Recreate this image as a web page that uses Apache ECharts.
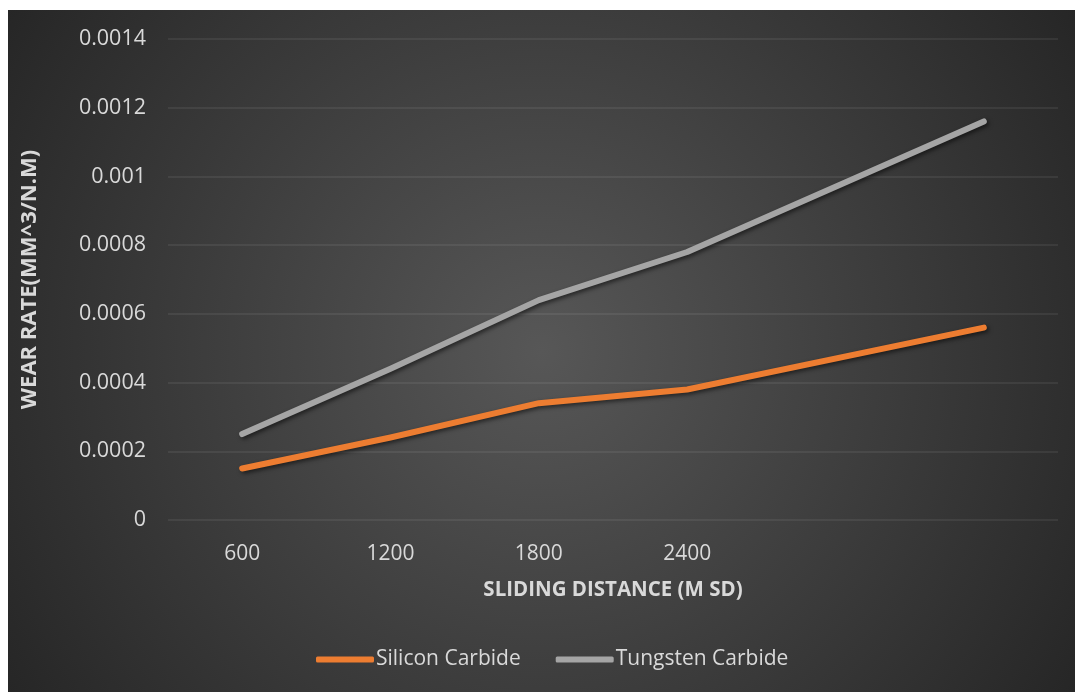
<!DOCTYPE html>
<html>
<head>
<meta charset="utf-8">
<script src="https://cdn.jsdelivr.net/npm/echarts@6/dist/echarts.min.js"></script>
<style>
  html, body { margin: 0; padding: 0; background: #ffffff; }
  #chart { position: absolute; left: 8px; top: 10px; width: 1067px; height: 682px; }
</style>
</head>
<body>
<div id="chart"></div>
<script>
// Sliding distance categories (the last two slots carry no label)
const distances = ['600', '1200', '1800', '2400', '', ''];
// Wear rate, mm^3/N.m
const siliconCarbide = [0.00015, 0.00024, 0.00034, 0.00038, null, 0.00056];
const tungstenCarbide = [0.00025, 0.00044, 0.00064, 0.00078, null, 0.00116];
const yTickLabels = ['0', '0.0002', '0.0004', '0.0006', '0.0008', '0.001', '0.0012', '0.0014'];

const textColor = '#d9d9d9';
const fontFamily = 'Open Sans, sans-serif';

const chart = echarts.init(document.getElementById('chart'), null, { renderer: 'canvas' });

const lineShadow = {
  shadowColor: 'rgba(0,0,0,0.55)',
  shadowBlur: 4,
  shadowOffsetX: 2,
  shadowOffsetY: 2
};

chart.setOption({
  animation: false,
  backgroundColor: new echarts.graphic.RadialGradient(0.5, 0.5, 0.95, [
    { offset: 0, color: '#575757' },
    { offset: 1, color: '#252525' }
  ]),
  grid: { left: 160, right: 17, top: 29, bottom: 172 },
  legend: {
    bottom: 17,
    left: 303,
    itemWidth: 58,
    itemHeight: 6,
    itemGap: 35,
    icon: 'roundRect',
    textStyle: { color: textColor, fontSize: 21, fontFamily: fontFamily, padding: [0, 0, 0, -3] },
    data: ['Silicon Carbide', 'Tungsten Carbide']
  },
  xAxis: {
    type: 'category',
    data: distances,
    boundaryGap: true,
    axisLine: { show: false },
    axisTick: { show: false },
    axisLabel: { color: textColor, fontSize: 21, fontFamily: fontFamily, margin: 24, interval: 0 },
    name: 'SLIDING DISTANCE (M SD)',
    nameLocation: 'middle',
    nameGap: 60,
    nameTextStyle: { color: textColor, fontSize: 20.5, fontWeight: 'bold', fontFamily: fontFamily }
  },
  yAxis: {
    type: 'value',
    min: 0,
    max: 0.0014,
    interval: 0.0002,
    axisLine: { show: false },
    axisTick: { show: false },
    splitLine: { lineStyle: { color: 'rgba(255,255,255,0.09)', width: 1.5 } },
    axisLabel: {
      color: textColor,
      fontSize: 21.5,
      fontFamily: fontFamily,
      margin: 22,
      formatter: function (v) {
        const idx = Math.round(v / 0.0002);
        return yTickLabels[idx] !== undefined ? yTickLabels[idx] : '';
      }
    },
    name: 'WEAR RATE(MM^3/N.M)',
    nameLocation: 'middle',
    nameRotate: 90,
    nameGap: 127,
    nameTextStyle: { color: textColor, fontSize: 22, fontWeight: 'bold', fontFamily: fontFamily }
  },
  series: [
    {
      name: 'Silicon Carbide',
      type: 'line',
      data: siliconCarbide,
      connectNulls: true,
      showSymbol: false,
      symbol: 'none',
      itemStyle: { color: '#ed7d31' },
      lineStyle: Object.assign({ color: '#ed7d31', width: 6, cap: 'round', join: 'round' }, lineShadow)
    },
    {
      name: 'Tungsten Carbide',
      type: 'line',
      data: tungstenCarbide,
      connectNulls: true,
      showSymbol: false,
      symbol: 'none',
      itemStyle: { color: '#a5a5a5' },
      lineStyle: Object.assign({ color: '#a5a5a5', width: 6, cap: 'round', join: 'round' }, lineShadow)
    }
  ]
});
</script>
</body>
</html>
